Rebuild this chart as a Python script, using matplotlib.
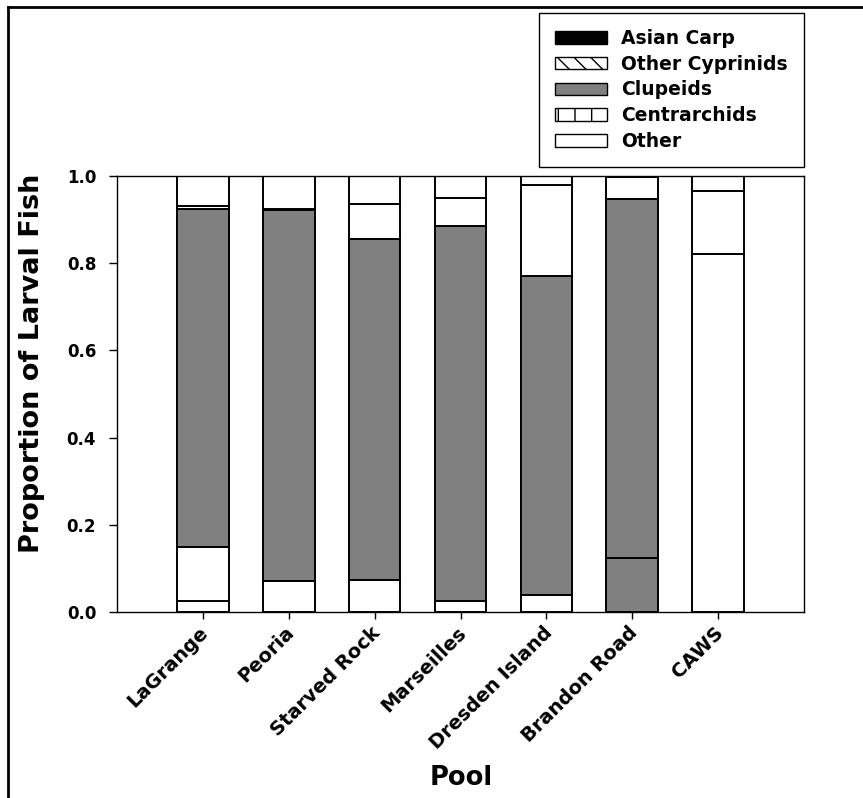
import matplotlib
matplotlib.use('Agg')
import matplotlib.pyplot as plt
import matplotlib.transforms as mtransforms
from matplotlib.patches import Patch
from matplotlib.lines import Line2D
import numpy as np

plt.rcParams['font.family'] = ['DejaVu Sans']
plt.rcParams['font.weight'] = 'bold'
plt.rcParams['hatch.linewidth'] = 1.0

# data
pools = ['LaGrange', 'Peoria', 'Starved Rock', 'Marseilles', 'Dresden Island', 'Brandon Road', 'CAWS']
asian_carp = [0.025, 0.072, 0.073, 0.026, 0.040, 0.123, 0.820]
other_cyprinids = [0.124, 0.0, 0.0, 0.0, 0.0, 0.0, 0.0]
clupeids = [0.775, 0.850, 0.782, 0.860, 0.730, 0.824, 0.0]
centrarchids = [0.008, 0.003, 0.081, 0.064, 0.210, 0.050, 0.145]
other = [0.068, 0.075, 0.064, 0.050, 0.020, 0.003, 0.035]

series = [asian_carp, other_cyprinids, clupeids, centrarchids, other]
# fill as it shows in the bars (bottom segment of Brandon Road is grey)
fills = [['white'] * 5 + ['#808080', 'white'],
         ['white'] * 7,
         ['#808080'] * 7,
         ['white'] * 7,
         ['white'] * 7]

fig = plt.figure(figsize=(8.63, 7.98), dpi=100)
ax = fig.add_axes([117 / 863, 1 - 612 / 798, 687 / 863, 436 / 798])

x = np.arange(len(pools))
bottom = np.zeros(len(pools))
for vals, cols in zip(series, fills):
    ax.bar(x, vals, width=0.6, bottom=bottom, color=cols, edgecolor='black', linewidth=1.4)
    bottom += np.array(vals)

ax.set_xlim(-1, 7)
ax.set_ylim(0, 1.0)
yt = np.arange(0, 1.01, 0.2)
ax.set_yticks(yt)
ax.set_yticklabels(['%.1f' % v for v in yt], fontsize=12, fontweight='bold')
ax.set_xticks(x)
ax.set_xticklabels(pools, rotation=45, ha='right', rotation_mode='anchor', fontsize=14, fontweight='bold')
ax.tick_params(axis='y', direction='out', length=6, width=1, pad=9)
ax.tick_params(axis='x', direction='out', length=5, width=1, pad=3)
shift = mtransforms.ScaledTranslation(-4 / 100, 0, fig.dpi_scale_trans)
for lab in ax.get_xticklabels():
    lab.set_transform(lab.get_transform() + shift)
for s in ax.spines.values():
    s.set_linewidth(1.0)

ax.set_ylabel('Proportion of Larval Fish', fontsize=19.5, fontweight='bold')
ax.yaxis.set_label_coords((45 - 117) / 687, (612 - 363) / 436)
fig.text(461 / 863, 1 - 778 / 798, 'Pool', fontsize=18.5, fontweight='bold', ha='center', va='center')

# legend
labels = ['Asian Carp', 'Other Cyprinids', 'Clupeids', 'Centrarchids', 'Other']
handles = [Patch(facecolor='black', edgecolor='black'),
           Patch(facecolor='white', edgecolor='black', hatch='\\\\'),
           Patch(facecolor='#808080', edgecolor='black'),
           Patch(facecolor='white', edgecolor='black', hatch='|'),
           Patch(facecolor='white', edgecolor='black')]
leg = ax.legend(handles, labels, loc='upper right', bbox_to_anchor=(1.0, (612 - 13) / 436),
                borderaxespad=0, fancybox=False, framealpha=1, edgecolor='black',
                prop={'size': 13.5, 'weight': 'bold'}, handlelength=2.8, handleheight=0.64,
                handletextpad=0.75, labelspacing=0.36, borderpad=0.85)
leg.get_frame().set_linewidth(1.0)

# outer frame (left and top edges visible)
fig.add_artist(Line2D([8 / 863, 8 / 863], [0, 1 - 7 / 798], transform=fig.transFigure, color='black', lw=2))
fig.add_artist(Line2D([8 / 863, 1], [1 - 7 / 798, 1 - 7 / 798], transform=fig.transFigure, color='black', lw=2))

fig.savefig('out.png', dpi=100)
